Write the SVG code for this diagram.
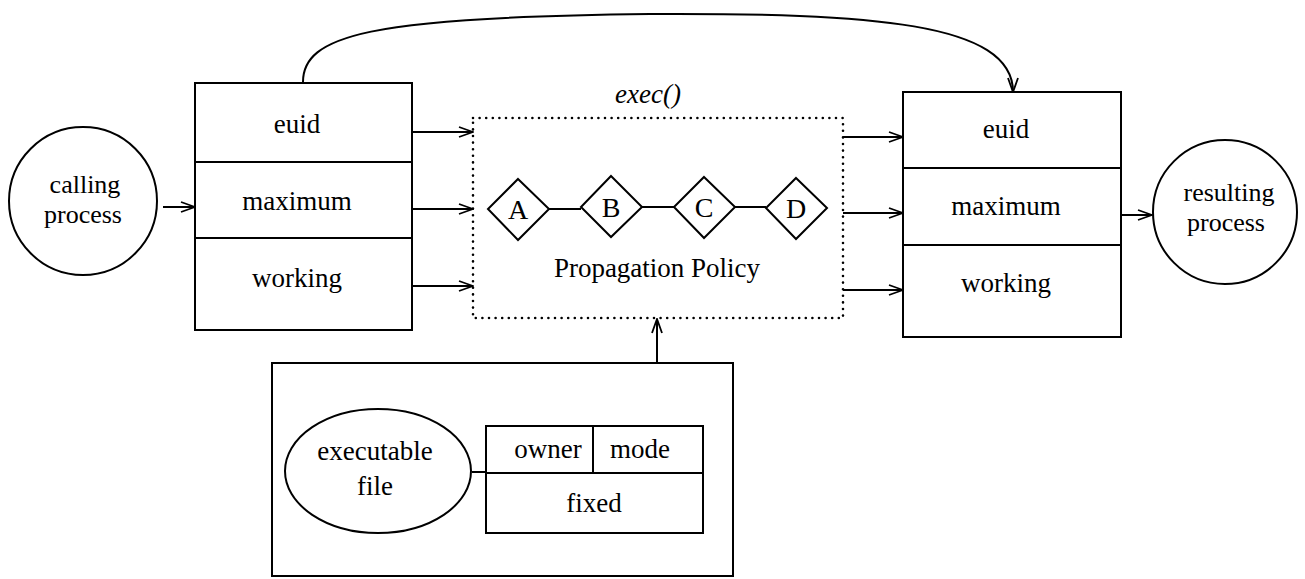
<svg xmlns="http://www.w3.org/2000/svg" width="1305" height="579" viewBox="0 0 1305 579">
<defs>
<style>
.s{fill:none;stroke:#000;stroke-width:2}
.t{font-family:"Liberation Serif","Times New Roman",serif;font-size:27px;fill:#000;text-anchor:middle}
.it{font-style:italic}
.big{font-size:28px}
.sm{font-size:26px}
.dot{fill:none;stroke:#000;stroke-width:2.6;stroke-dasharray:0 6.6;stroke-linecap:round}
.c{fill:none;stroke:#000;stroke-width:2;marker-end:url(#ah)}
</style>
<marker id="ah" markerWidth="16" markerHeight="12" refX="15" refY="6" orient="auto" markerUnits="userSpaceOnUse">
<path d="M1,1 L15,6 L1,11" fill="none" stroke="#000" stroke-width="1.8"/>
</marker>
</defs>
<rect width="1305" height="579" fill="#fff"/>

<g id="connectors">
<path class="c" d="M163,207 L195,207"/>
<path class="c" d="M412,132 L473,132"/>
<path class="c" d="M412,209 L473,209"/>
<path class="c" d="M412,286 L473,286"/>
<path class="c" d="M843,137 L903,137"/>
<path class="c" d="M843,213 L903,213"/>
<path class="c" d="M843,290 L903,290"/>
<path class="c" d="M1121,215 L1152,215"/>
<path class="c" d="M657,363 L657,319"/>
<path class="c" d="M303,83 C302,35 370,17 650,14 C870,13 1013,22 1013,92"/>
<path class="s" d="M472,472 L486,472"/>
</g>

<g id="calling">
<circle class="s" cx="83" cy="201" r="74"/>
<text class="t sm" x="85" y="193">calling</text>
<text class="t sm" x="83" y="223">process</text>
</g>

<g id="left-box">
<rect class="s" x="195" y="83" width="217" height="247"/>
<line class="s" x1="195" y1="162" x2="412" y2="162"/>
<line class="s" x1="195" y1="238" x2="412" y2="238"/>
<text class="t" x="297" y="133">euid</text>
<text class="t" x="297" y="210">maximum</text>
<text class="t" x="297" y="287">working</text>
</g>

<g id="policy">
<rect class="dot" x="473" y="118" width="370" height="200"/>
<text class="t it" x="648" y="103">exec()</text>
<path class="s" d="M549,209 L581,209 M642,207 L674,207 M735,207 L766,207"/>
<g id="dA"><path class="s" d="M518,179 L549,209 L518,240 L488,209 Z"/><text class="t big" x="518" y="219">A</text></g>
<g id="dB"><path class="s" d="M611,176 L642,207 L611,237 L581,207 Z"/><text class="t big" x="611" y="217">B</text></g>
<g id="dC"><path class="s" d="M704,177 L735,207 L704,238 L674,207 Z"/><text class="t big" x="704" y="217">C</text></g>
<g id="dD"><path class="s" d="M796,178 L827,208 L796,239 L766,208 Z"/><text class="t big" x="796" y="218">D</text></g>
<text class="t" x="657" y="277">Propagation Policy</text>
</g>

<g id="right-box">
<rect class="s" x="903" y="92" width="218" height="245"/>
<line class="s" x1="903" y1="168" x2="1121" y2="168"/>
<line class="s" x1="903" y1="245" x2="1121" y2="245"/>
<text class="t" x="1006" y="138">euid</text>
<text class="t" x="1006" y="215">maximum</text>
<text class="t" x="1006" y="292">working</text>
</g>

<g id="resulting">
<circle class="s" cx="1225" cy="212" r="72"/>
<text class="t sm" x="1229" y="201">resulting</text>
<text class="t sm" x="1226" y="231">process</text>
</g>

<g id="file-box">
<rect class="s" x="272" y="363" width="461" height="213"/>
<ellipse class="s" cx="378" cy="471" rx="93" ry="62"/>
<text class="t" x="375" y="460">executable</text>
<text class="t" x="375" y="495">file</text>
<rect class="s" x="486" y="426" width="217" height="107"/>
<line class="s" x1="486" y1="473" x2="703" y2="473"/>
<line class="s" x1="593" y1="426" x2="593" y2="473"/>
<text class="t" x="548" y="458">owner</text>
<text class="t" x="640" y="458">mode</text>
<text class="t" x="594" y="512">fixed</text>
</g>
</svg>
